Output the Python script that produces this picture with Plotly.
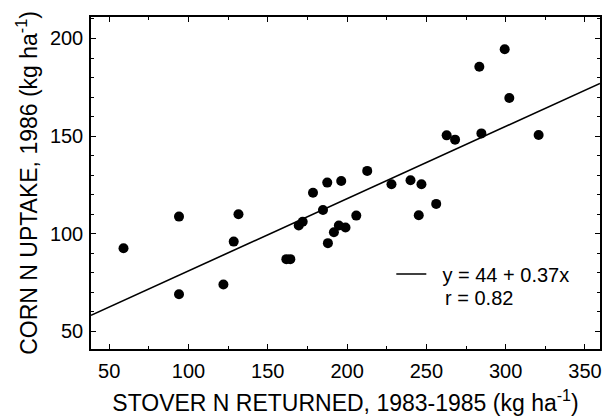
import numpy as np
import plotly.graph_objects as go

# Stover N returned 1983-1985 (kg/ha) and corn N uptake in 1986 (kg/ha)
stover_n = [59, 94, 94, 122, 128.5, 131.5, 161.7, 164.2, 169.5, 172,
            178.5, 184.8, 187.5, 187.9, 191.7, 194.8, 196.3, 199, 205.8, 212.7,
            228, 240, 245.2, 246.9, 256.2, 262.8, 268.1, 283.4, 284.7, 299.4,
            302.3, 320.8]
corn_uptake = [92.6, 108.8, 69, 74, 96, 110, 87, 87, 104.2, 106.2,
               121, 112.2, 126.2, 95.2, 100.8, 104.2, 127, 103.2, 109.3, 132.2,
               125.4, 127.4, 109.5, 125.4, 115.3, 150.4, 148.2, 185.5, 151.4, 194.5,
               169.5, 150.6]

# Fitted regression
intercept = 44
slope = 0.37
r_value = 0.82

x_range = [38.5, 359.5]
y_range = [41, 211]

x_fit = np.array(x_range)
y_fit = intercept + slope * x_fit

FONT = "Liberation Sans, Arial, Helvetica, sans-serif"

fig = go.Figure()
fig.add_trace(go.Scatter(
    x=stover_n, y=corn_uptake, mode="markers",
    marker=dict(color="black", size=10, line=dict(width=0)),
    showlegend=False,
))
fig.add_trace(go.Scatter(
    x=x_fit, y=y_fit, mode="lines",
    line=dict(color="black", width=1.6),
    name="\u00a0\u00a0y = %g + %gx" % (intercept, slope),
    showlegend=True,
))

fig.add_annotation(
    xref="paper", yref="paper", x=0.691, y=0.155,
    xanchor="left", yanchor="middle", showarrow=False,
    text="r = %.2f" % r_value,
    font=dict(family=FONT, size=20, color="black"),
)

axis_common = dict(
    showline=True, linecolor="black", linewidth=1.5, mirror="ticks",
    ticks="inside", ticklen=5, tickwidth=1.3, tickcolor="black",
    showgrid=False, zeroline=False,
    tickfont=dict(family=FONT, size=20, color="black"),
)

fig.update_xaxes(
    range=x_range, tick0=50, dtick=50, ticklabelstandoff=3,
    minor=dict(ticks="inside", ticklen=3, tickwidth=1, tickcolor="black", dtick=25, tick0=50, showgrid=False),
    title=dict(text="STOVER N RETURNED, 1983-1985 (kg ha<sup>-1</sup>)",
               font=dict(family=FONT, size=23, color="black"), standoff=14),
    **axis_common,
)
fig.update_yaxes(
    range=y_range, tick0=50, dtick=50, ticklabelstandoff=2,
    minor=dict(ticks="inside", ticklen=3, tickwidth=1, tickcolor="black", dtick=10, tick0=50, showgrid=False),
    title=dict(text="CORN N UPTAKE, 1986 (kg ha<sup>-1</sup>)",
               font=dict(family=FONT, size=23, color="black"), standoff=6),
    **axis_common,
)

fig.update_layout(
    width=605, height=420,
    margin=dict(l=91, r=3, t=17, b=71),
    paper_bgcolor="white", plot_bgcolor="white",
    legend=dict(
        x=0.59, y=0.226, xanchor="left", yanchor="middle",
        bgcolor="rgba(0,0,0,0)", borderwidth=0,
        font=dict(family=FONT, size=20, color="black"),
    ),
)

fig.write_html("out.html")
